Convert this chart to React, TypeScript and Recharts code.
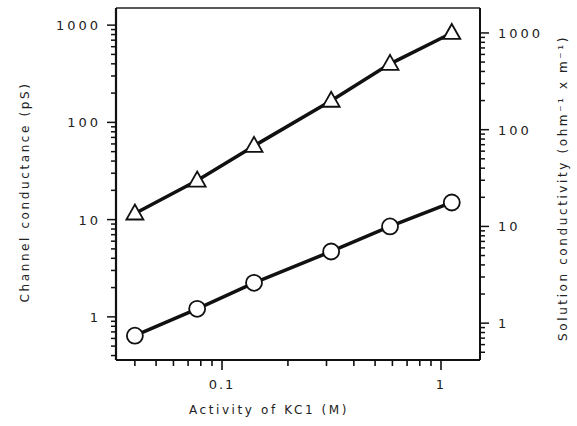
import React from "react";
import { LineChart, Line, XAxis, YAxis, ReferenceLine } from "recharts";

const activity = [0.04, 0.077, 0.14, 0.315, 0.585, 1.12];
const channelConductance = [0.64, 1.21, 2.24, 4.7, 8.5, 15];
const solutionConductivity = [13.6, 29.8, 68, 199, 479, 1000];

const xTicks = [0.04, 0.05, 0.06, 0.07, 0.08, 0.09, 0.1, 0.2, 0.3, 0.4, 0.5, 0.6, 0.7, 0.8, 0.9, 1];
const xMajor = [0.1, 1];
const yLeftTicks = [0.4, 0.5, 0.6, 0.7, 0.8, 0.9, 1, 2, 3, 4, 5, 6, 7, 8, 9, 10, 20, 30, 40, 50, 60, 70, 80, 90, 100, 200, 300, 400, 500, 600, 700, 800, 900, 1000];
const yRightTicks = [0.5, 0.6, 0.7, 0.8, 0.9, 1, 2, 3, 4, 5, 6, 7, 8, 9, 10, 20, 30, 40, 50, 60, 70, 80, 90, 100, 200, 300, 400, 500, 600, 700, 800, 900, 1000];
const yMajor = [1, 10, 100, 1000];

const xTitle = "Activity of KC1 (M)";
const leftTitle = "Channel conductance (pS)";
const rightTitle = "Solution conductivity (ohm⁻¹ x m⁻¹)";

const data = activity.map((a, i) => ({ a, cond: channelConductance[i], sol: solutionConductivity[i] }));

const INK = "#111111";
const FONT = "'DejaVu Sans', sans-serif";

const isMajor = (list: number[], v: number) => list.some((m) => Math.abs(m - v) < 1e-9);

const renderXTick = (props: any) => {
  const { x, y, payload } = props;
  const major = isMajor(xMajor, payload.value);
  return (
    <g>
      <line x1={x} y1={y} x2={x} y2={y + (major ? 10 : 6)} stroke={INK} strokeWidth={1.6} />
      {major && (
        <text x={x} y={y + 29} textAnchor="middle" fontSize={13} letterSpacing={2} fill="#222" fontFamily={FONT}>
          {String(payload.value)}
        </text>
      )}
    </g>
  );
};
const renderLeftTick = (props: any) => {
  const { x, y, payload } = props;
  const major = isMajor(yMajor, payload.value);
  return (
    <g>
      <line x1={x} y1={y} x2={x - (major ? 9 : 5)} y2={y} stroke={INK} strokeWidth={1.5} />
      {major && (
        <text x={x - 15} y={y + 5} textAnchor="end" fontSize={13} letterSpacing={3} fill="#222" fontFamily={FONT}>
          {String(payload.value)}
        </text>
      )}
    </g>
  );
};
const renderRightTick = (props: any) => {
  const { x, y, payload } = props;
  const major = isMajor(yMajor, payload.value);
  return (
    <g>
      <line x1={x} y1={y} x2={x + (major ? 9 : 5)} y2={y} stroke={INK} strokeWidth={1.5} />
      {major && (
        <text x={x + 18} y={y + 5} textAnchor="start" fontSize={13} letterSpacing={3} fill="#222" fontFamily={FONT}>
          {String(payload.value)}
        </text>
      )}
    </g>
  );
};

const TriangleDot = (props: any) => {
  const { cx, cy, index } = props;
  if (cx == null || cy == null) return <g key={`t-${index}`} />;
  return (
    <path
      key={`t-${index}`}
      d={`M${cx},${cy - 9} L${cx + 8.5},${cy + 6} L${cx - 8.5},${cy + 6} Z`}
      fill="#fff"
      stroke={INK}
      strokeWidth={1.8}
    />
  );
};

const CircleDot = (props: any) => {
  const { cx, cy, index } = props;
  if (cx == null || cy == null) return <g key={`c-${index}`} />;
  return <circle key={`c-${index}`} cx={cx} cy={cy} r={8} fill="#fff" stroke={INK} strokeWidth={1.8} />;
};

const labelStyle = { fontSize: 12, letterSpacing: 2.6, fill: "#222", fontFamily: FONT };

export default function App() {
  return (
    <div style={{ position: "absolute", left: 0, top: 0, width: 577, height: 426 }}>
      <LineChart width={577} height={426} data={data} margin={{ top: 8, right: 0, left: 0, bottom: 0 }}>
        <XAxis dataKey="a" type="number" scale="log" domain={[0.0328, 1.507]} allowDataOverflow ticks={xTicks} interval={0}
          tick={renderXTick} tickLine={false} tickSize={0} tickMargin={0} height={66}
          axisLine={{ stroke: INK, strokeWidth: 2 }} />
        <YAxis yAxisId="left" type="number" scale="log" domain={[0.36, 1500]} allowDataOverflow ticks={yLeftTicks} interval={0}
          tick={renderLeftTick} tickLine={false} tickSize={0} tickMargin={0} width={116}
          axisLine={{ stroke: INK, strokeWidth: 2.2 }} />
        <YAxis yAxisId="right" orientation="right" type="number" scale="log" domain={[0.416, 1811]} allowDataOverflow ticks={yRightTicks} interval={0}
          tick={renderRightTick} tickLine={false} tickSize={0} tickMargin={0} width={97}
          axisLine={{ stroke: INK, strokeWidth: 2 }} />
        <ReferenceLine yAxisId="left" y={1500} stroke="#222222" strokeWidth={1.6} ifOverflow="visible" />
        <Line yAxisId="right" dataKey="sol" stroke={INK} strokeWidth={3.5} dot={TriangleDot} activeDot={false} isAnimationActive={false} />
        <Line yAxisId="left" dataKey="cond" stroke={INK} strokeWidth={3.5} dot={CircleDot} activeDot={false} isAnimationActive={false} />
      </LineChart>
      <svg width={577} height={426} style={{ position: "absolute", left: 0, top: 0, pointerEvents: "none" }}>
        <text x={269} y={414} textAnchor="middle" {...labelStyle}>{xTitle}</text>
        <text x={25} y={192} textAnchor="middle" dominantBaseline="central" transform="rotate(-90 25 192)" {...labelStyle}>{leftTitle}</text>
        <text x={563} y={188} textAnchor="middle" dominantBaseline="central" transform="rotate(-90 563 188)" {...labelStyle}>{rightTitle}</text>
      </svg>
    </div>
  );
}
